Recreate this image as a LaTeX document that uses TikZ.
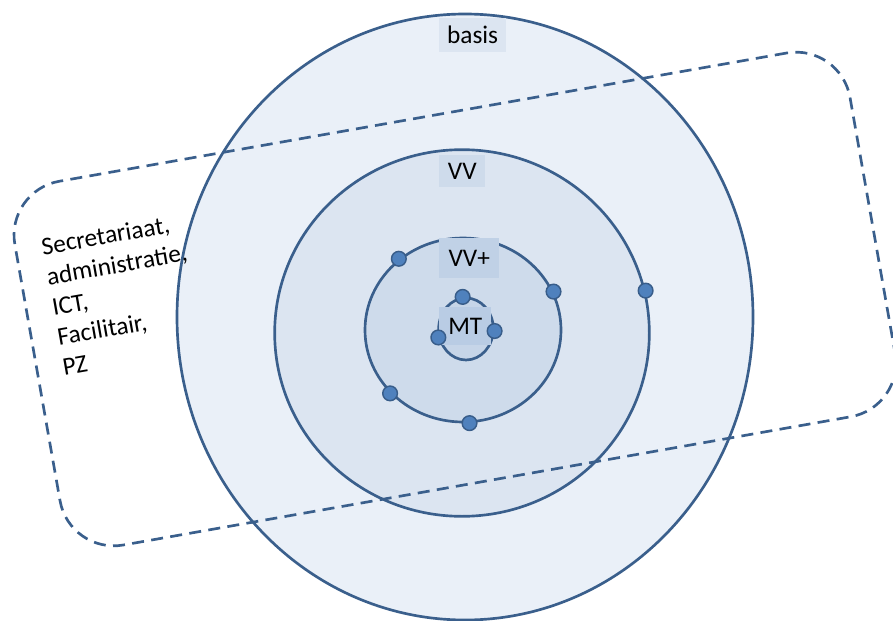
\documentclass[tikz,border=0pt]{standalone}
\usepackage{fontspec}
\setmainfont{Carlito}
\usetikzlibrary{shapes.geometric}

\tikzset{
  ring/.style={ellipse, inner sep=0pt, draw={rgb, 255:red, 58; green, 95; blue, 140 }, line width=2pt},
  lbl/.style={anchor=west, inner sep=0pt, font=\fontsize{19}{23}\selectfont},
  dot/.style={circle, inner sep=0pt, minimum size=11pt, line width=1.1pt, draw={rgb, 255:red, 56; green, 93; blue, 138 }, fill={rgb, 255:red, 79; green, 129; blue, 189 }},
  grpbox/.style={draw={rgb, 255:red, 58; green, 95; blue, 140 }, line width=2pt, dash pattern=on 9pt off 5.5pt, rounded corners=41pt, inner sep=0pt}
}

\begin{document}
\begin{tikzpicture}[x=0.75pt,y=0.75pt,yscale=-1,xscale=1]
\useasboundingbox (0,0) rectangle (893,621);

%Shape: Ellipse [basis]
\node [ring, fill={rgb, 255:red, 234; green, 240; blue, 248 }, minimum width=432pt, minimum height=454.5pt] (basis) at (465,317) {};
%Shape: Ellipse [VV]
\node [ring, fill={rgb, 255:red, 220; green, 229; blue, 241 }, minimum width=281pt, minimum height=275pt] (vv) at (462,333) {};
%Shape: Ellipse [VV+]
\node [ring, fill={rgb, 255:red, 206; green, 219; blue, 235 }, minimum width=147pt, minimum height=138pt] (vvp) at (463,330) {};
%Shape: Ellipse [MT]
\node [ring, fill={rgb, 255:red, 198; green, 213; blue, 232 }, minimum width=41pt, minimum height=46.5pt] (mt) at (466,329) {};

%Shape: Rounded Rect (dashed group)
\node [grpbox, rotate=10, minimum width=636pt, minimum height=277pt] (grp) at (455,299) {};

%Text boxes
\node [lbl, fill={rgb, 255:red, 220; green, 229; blue, 241 }, minimum width=50pt, minimum height=25.5pt] (basislbl) at (439,35) {basis};
\node [lbl, fill={rgb, 255:red, 206; green, 219; blue, 235 }, minimum width=34.5pt, minimum height=24pt] (vvlbl) at (439,171) {VV};
\node [lbl, fill={rgb, 255:red, 192; green, 209; blue, 230 }, minimum width=45pt, minimum height=30pt] (vvplbl) at (439,258) {VV+};
\node [lbl, fill={rgb, 255:red, 185; green, 204; blue, 228 }, minimum width=39pt, minimum height=28.5pt] (mtlbl) at (439,326) {MT};

%Dots on the rings
\node [dot] (vv-d1) at (vv.13) {};
\foreach \a in {132,23,221,274}
  \node [dot] (vvp-d\a) at (vvp.\a) {};
\foreach \a in {96,356,197}
  \node [dot] (mt-d\a) at (mt.\a) {};

%Text
\node [lbl, rotate=10, align=left] (staff) at (52,307) {Secretariaat,\\administratie,\\ICT,\\Facilitair,\\PZ};

\end{tikzpicture}
\end{document}
